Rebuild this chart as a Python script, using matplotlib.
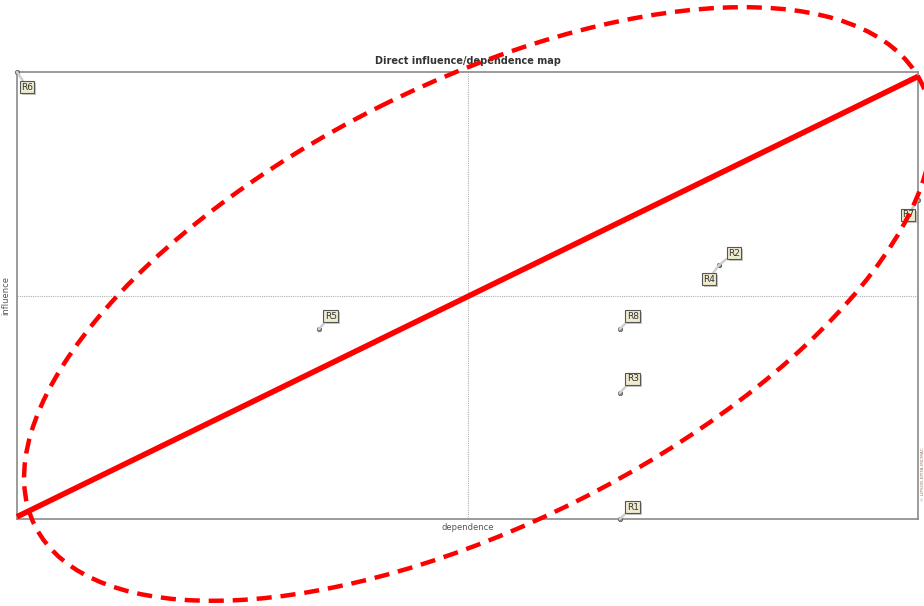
import matplotlib
matplotlib.use("Agg")
import matplotlib.pyplot as plt
from matplotlib.patches import Ellipse
import matplotlib.patheffects as pe

# variables plotted on the direct influence/dependence map
labels = ['R1', 'R2', 'R3', 'R4', 'R5', 'R6', 'R7', 'R8']
dependence = [66.9, 77.9, 66.9, 77.9, 33.5, 0.0, 100.0, 66.9]
influence = [0.0, 56.8, 28.2, 56.8, 42.5, 100.0, 71.4, 42.5]
# label offsets in pixels (dx, dy up)
offsets = [(13, 12), (15, 12), (13, 14), (-10, -14), (12, 13), (10, -15), (-10, -15), (13, 13)]

fig = plt.figure(figsize=(9.24, 6.06), dpi=100)
ax = fig.add_axes([17 / 924, 87 / 606, 901 / 924, 447 / 606])
ax.set_xlim(0, 100)
ax.set_ylim(0, 100)
for s in ax.spines.values():
    s.set_color('#8a8a8a')
    s.set_linewidth(1.2)
ax.set_xticks([])
ax.set_yticks([])

# quadrant lines
ax.axvline(50, color='#b0b0b0', lw=0.8, ls=(0, (1, 1)))
ax.axhline(50, color='#b0b0b0', lw=0.8, ls=(0, (1, 1)))

ax.set_title('Direct influence/dependence map', fontsize=7, fontweight='bold',
             color='#333333', pad=6)
ax.text(50, -0.8, 'dependence', ha='center', va='top', fontsize=6, color='#555555')
ax.text(-0.8, 50, 'influence', ha='right', va='center', rotation=90, fontsize=6,
        color='#555555')

ax.scatter(dependence, influence, s=10, color='#888888', edgecolor='#555555',
           lw=0.5, zorder=4, clip_on=False)
for lab, x, y, (dx, dy) in zip(labels, dependence, influence, offsets):
    ann = ax.annotate(lab, (x, y), xytext=(dx, dy), textcoords='offset pixels',
                      ha='center', va='center', fontsize=6.5, color='#333333',
                      bbox=dict(boxstyle='square,pad=0.15', fc='#efebcf', ec='#555555', lw=0.8),
                      arrowprops=dict(arrowstyle='-', color='#cfcfcf', lw=1.8,
                                      shrinkA=0, shrinkB=0),
                      zorder=5, annotation_clip=False)
    ann.get_bbox_patch().set_path_effects([pe.SimplePatchShadow(offset=(1.5, -1.5)), pe.Normal()])

ax.text(100.3, 10, '© LIPSOR-EPITA-MICMAC', rotation=90, ha='left', va='center',
        fontsize=3.2, color='#9a7a60')

# diagonal
ax.plot([0, 100], [0.5, 99], color='#ff0000', lw=4, solid_capstyle='butt',
        zorder=6, clip_on=False)

# overlay in pixel coordinates for the dashed ellipse
ov = fig.add_axes([0, 0, 1, 1])
ov.set_xlim(0, 924)
ov.set_ylim(606, 0)
ov.axis('off')
ov.patch.set_alpha(0)
ov.add_patch(Ellipse((478, 304), 991, 441, angle=-26.6, fill=False,
                     ec='#ff0000', lw=3.2, ls=(0, (3.4, 2))))

fig.savefig('out.png', dpi=100)
